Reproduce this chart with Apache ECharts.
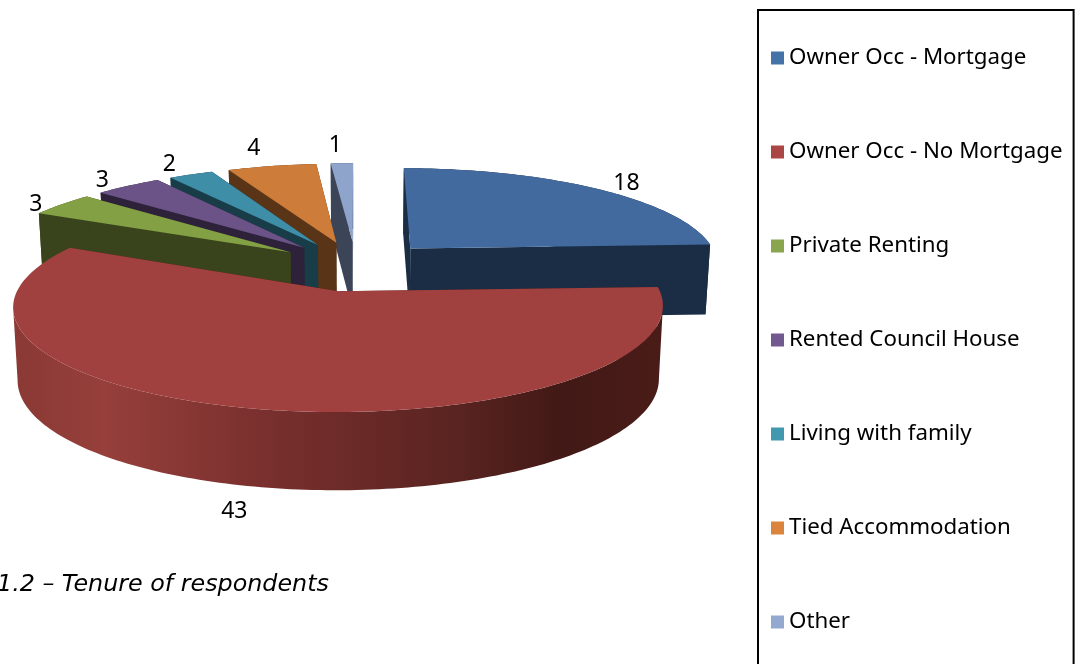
<!DOCTYPE html>
<html>
<head>
<meta charset="utf-8">
<title>Tenure of respondents</title>
<script src="https://cdn.jsdelivr.net/npm/echarts@6/dist/echarts.min.js"></script>
<style>
    html, body { margin: 0; background: #fff; overflow: hidden; }
    #chart { width: 1080px; height: 664px; }
</style>
</head>
<body>
<div id="chart"></div>
<script>
const categories = [
    "Owner Occ - Mortgage", "Owner Occ - No Mortgage", "Private Renting",
    "Rented Council House", "Living with family", "Tied Accommodation", "Other",
];
const values = [18, 43, 3, 3, 2, 4, 1];

const legendColors = ["#4572a7", "#aa4643", "#89a54e", "#71588f", "#4198af", "#db843d", "#93a9cf"];
const topColors = ["#426a9f", "#a04140", "#83a044", "#6c5387", "#3e8ea8", "#cd7d39", "#8fa4cb"];
const wallColors = ["#1a2d45", "#4a1c18", "#39431c", "#2d2239", "#183c48", "#5a3417", "#3c4557"];
const labelRadius = [1.1, 1.12, 1.06, 1.1, 1.13, 1.18, 1.18];
const labelNudge = [[14, 0], [-12, 7], [-13, 3], [-10, 0], [-7, -2], [-8, -6], [-5, -6]];
// back to front
const drawOrder = [6, 5, 4, 3, 2, 0, 1];

const fontFamily = "Noto Sans";
const total = values.reduce((a, b) => a + b, 0);

// perspective of the tilted pie
const view = { cx: 356, cy: 266, sx: 310, sy: 96, k: 0.14, depth: 71, shrink: 0.987, explode: 0.26 };

function project(x, y, down) {
    const w = 1 / (1 - view.k * y);
    const px = view.cx + view.sx * x * w * (down ? view.shrink : 1);
    const py = view.cy + view.sy * y * w + (down ? view.depth * Math.sqrt(w) : 0);
    return [px, py];
}

function startOf(index) {
    let sum = 0;
    for (let i = 0; i < index; i++) sum += values[i];
    return (sum / total) * Math.PI * 2;
}

function renderSlice(index, api) {
    const start = startOf(index);
    const sweep = (api.value(0) / total) * Math.PI * 2;
    const mid = start + sweep / 2;
    const ox = view.explode * Math.sin(mid);
    const oy = -view.explode * Math.cos(mid);
    const at = (angle, r, down) => project(ox + r * Math.sin(angle), oy - r * Math.cos(angle), down);

    const steps = Math.max(4, Math.ceil(sweep / 0.02));
    const arcTop = [];
    const arcBottom = [];
    for (let i = 0; i <= steps; i++) {
        const a = start + (sweep * i) / steps;
        arcTop.push(at(a, 1, false));
        arcBottom.push(at(a, 1, true));
    }
    const apexTop = project(ox, oy, false);
    const apexBottom = project(ox, oy, true);
    const poly = (points, fill) => ({ type: "polygon", shape: { points }, style: { fill } });
    const wall = wallColors[index];

    const sideFill = index === 1
        ? new echarts.graphic.LinearGradient(0, 0, 1, 0, [
            { offset: 0, color: "#8a3934" },
            { offset: 0.14, color: "#963f3b" },
            { offset: 0.38, color: "#7a302e" },
            { offset: 0.68, color: "#5a2421" },
            { offset: 0.84, color: "#421916" },
            { offset: 1, color: "#4a1c18" },
        ])
        : wall;

    // only the part between the left and right extremes faces us, the band folds past them
    const xs = arcTop.map((p) => p[0]);
    const iMin = xs.indexOf(Math.min(...xs));
    const iMax = xs.indexOf(Math.max(...xs));
    const from = Math.min(iMin, iMax);
    const to = Math.max(iMin, iMax) + 1;
    const band = arcTop.slice(from, to).concat(arcBottom.slice(from, to).reverse());

    const labelPos = at(mid, labelRadius[index], Math.cos(mid) < 0);

    return {
        type: "group",
        children: [
            poly([apexTop, arcTop[0], arcBottom[0], apexBottom], wall),
            poly([apexTop, arcTop[steps], arcBottom[steps], apexBottom], wall),
            poly(band, sideFill),
            poly([apexTop].concat(arcTop), topColors[index]),
            {
                type: "text",
                style: {
                    text: String(api.value(0)),
                    x: labelPos[0] + labelNudge[index][0],
                    y: labelPos[1] + labelNudge[index][1],
                    align: "center",
                    verticalAlign: "middle",
                    fill: "#000",
                    font: "23px '" + fontFamily + "'",
                },
            },
        ],
    };
}

const chart = echarts.init(document.getElementById("chart"), null, { renderer: "canvas" });

chart.setOption({
    animation: false,
    legend: {
        data: categories,
        orient: "vertical",
        left: 758,
        top: 10,
        height: 700,
        padding: [36, 11, 60, 13],
        itemGap: 70,
        itemWidth: 13,
        itemHeight: 13,
        icon: "rect",
        borderColor: "#000",
        borderWidth: 2,
        textStyle: { fontFamily, fontSize: 22.3, lineHeight: 24, color: "#000" },
    },
    graphic: [
        {
            type: "text",
            left: -3,
            top: 573,
            style: { text: "1.2 – Tenure of respondents", font: "italic 23.8px 'DejaVu Sans'", fill: "#000" },
        },
    ],
    series: categories.map((name, index) => ({
        name,
        type: "custom",
        coordinateSystem: "none",
        z: 2 + drawOrder.indexOf(index),
        itemStyle: { color: legendColors[index] },
        data: [values[index]],
        renderItem: (params, api) => renderSlice(index, api),
    })),
});
</script>
</body>
</html>
